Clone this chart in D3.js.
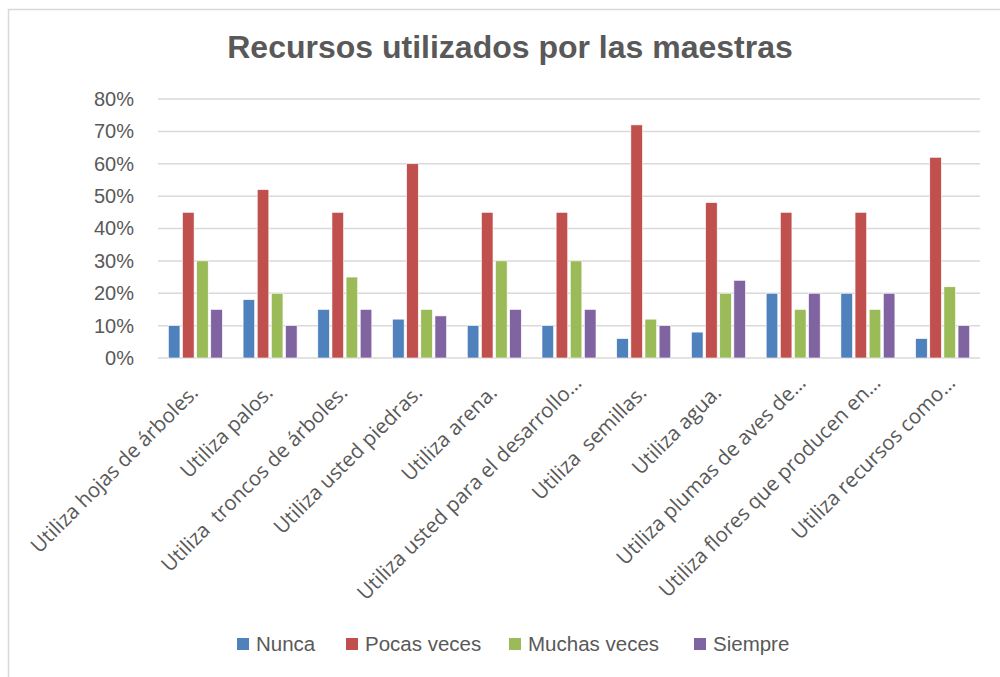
<!DOCTYPE html>
<html>
<head>
<meta charset="utf-8">
<script src="https://cdn.jsdelivr.net/npm/d3@7"></script>
<style>
  body { margin: 0; background: #fff; }
  text { white-space: pre; }
</style>
</head>
<body>
<div id="chart"></div>
<script>
var categories = [
  "Utiliza hojas de árboles.",
  "Utiliza palos.",
  "Utiliza  troncos de árboles.",
  "Utiliza usted piedras.",
  "Utiliza arena.",
  "Utiliza usted para el desarrollo…",
  "Utiliza  semillas.",
  "Utiliza agua.",
  "Utiliza plumas de aves de…",
  "Utiliza flores que producen en…",
  "Utiliza recursos como…"
];
var seriesNames = ["Nunca", "Pocas veces", "Muchas veces", "Siempre"];
var nunca       = [0.10, 0.18, 0.15, 0.12, 0.10, 0.10, 0.06, 0.08, 0.20, 0.20, 0.06];
var pocasVeces  = [0.45, 0.52, 0.45, 0.60, 0.45, 0.45, 0.72, 0.48, 0.45, 0.45, 0.62];
var muchasVeces = [0.30, 0.20, 0.25, 0.15, 0.30, 0.30, 0.12, 0.20, 0.15, 0.15, 0.22];
var siempre     = [0.15, 0.10, 0.15, 0.13, 0.15, 0.15, 0.10, 0.24, 0.20, 0.20, 0.10];
var yTicks = [0, 0.1, 0.2, 0.3, 0.4, 0.5, 0.6, 0.7, 0.8];
var colors = ["#4F81BD", "#C0504D", "#9BBB59", "#8064A2"];

var values = [nunca, pocasVeces, muchasVeces, siempre];

const W = 1000, H = 677;
const margin = {top: 99, right: 20, bottom: 319, left: 158};
const width = 980 - margin.left;
const height = 358 - margin.top;

var svg = d3.select("#chart").append("svg")
  .attr("width", W)
  .attr("height", H);

// outer chart border
svg.append("rect")
  .attr("x", 8.5).attr("y", 9.5)
  .attr("width", 1000).attr("height", 700)
  .attr("fill", "none")
  .attr("stroke", "#d9d9d9")
  .attr("stroke-width", 1.5);

svg.append("text")
  .attr("x", 510).attr("y", 58)
  .attr("text-anchor", "middle")
  .attr("font-family", "Liberation Sans, Arial, sans-serif")
  .attr("font-weight", "bold")
  .attr("font-size", 32)
  .attr("fill", "#595959")
  .text("Recursos utilizados por las maestras");

var g = svg.append("g")
  .attr("transform", "translate(" + margin.left + "," + margin.top + ")");

var x0 = d3.scaleBand().domain(d3.range(categories.length)).range([0, width]);
var x1 = d3.scaleBand().domain(d3.range(seriesNames.length))
  .range([0, 54]).paddingInner(0.18);
var y = d3.scaleLinear().domain([0, 0.8]).range([height, 0]);

// gridlines
g.selectAll("line.grid")
  .data(yTicks)
  .enter().append("line")
  .attr("class", "grid")
  .attr("x1", 0).attr("x2", width)
  .attr("y1", function(d) { return y(d); })
  .attr("y2", function(d) { return y(d); })
  .attr("stroke", "#d9d9d9")
  .attr("stroke-width", 1.5);

var yAxis = g.append("g")
  .call(d3.axisLeft(y).tickValues(yTicks).tickFormat(d3.format(".0%")).tickSize(0).tickPadding(24));
yAxis.select(".domain").remove();
yAxis.selectAll("text")
  .attr("font-family", "Liberation Sans, Arial, sans-serif")
  .attr("font-size", 20)
  .attr("fill", "#595959");

// bars
var groups = g.selectAll("g.cat")
  .data(categories)
  .enter().append("g")
  .attr("class", "cat")
  .attr("transform", function(d, i) {
    return "translate(" + (x0(i) + x0.bandwidth() / 2 - 27) + ",0)";
  });

groups.selectAll("rect")
  .data(function(d, i) {
    return values.map(function(s, k) { return {k: k, v: s[i]}; });
  })
  .enter().append("rect")
  .attr("x", function(d) { return x1(d.k); })
  .attr("width", x1.bandwidth())
  .attr("y", function(d) { return y(d.v); })
  .attr("height", function(d) { return height - y(d.v); })
  .attr("fill", function(d) { return colors[d.k]; })
  .attr("stroke", "#ffffff")
  .attr("stroke-width", 0.6);

// x labels, rotated
g.selectAll("text.xlab")
  .data(categories)
  .enter().append("text")
  .attr("class", "xlab")
  .attr("transform", function(d, i) {
    var cx = x0(i) + x0.bandwidth() / 2;
    var shift = d.endsWith("…") ? 14 : 0;
    return "translate(" + (cx + 4 + shift * 0.707) + "," + (height + 36 - shift * 0.707) + ") rotate(-45)";
  })
  .attr("text-anchor", "end")
  .attr("font-family", "Open Sans, sans-serif")
  .attr("font-size", 20.5)
  .attr("fill", "#595959")
  .text(function(d) { return d; });

// legend
var legendX = [237, 346, 509, 694];
var legend = svg.selectAll("g.leg")
  .data(seriesNames)
  .enter().append("g")
  .attr("class", "leg")
  .attr("transform", function(d, i) { return "translate(" + legendX[i] + ",638)"; });
legend.append("rect")
  .attr("width", 12).attr("height", 12)
  .attr("fill", function(d, i) { return colors[i]; });
legend.append("text")
  .attr("x", 19).attr("y", 13)
  .attr("font-family", "Liberation Sans, Arial, sans-serif")
  .attr("font-size", 20.5)
  .attr("fill", "#595959")
  .text(function(d) { return d; });
</script>
</body>
</html>
